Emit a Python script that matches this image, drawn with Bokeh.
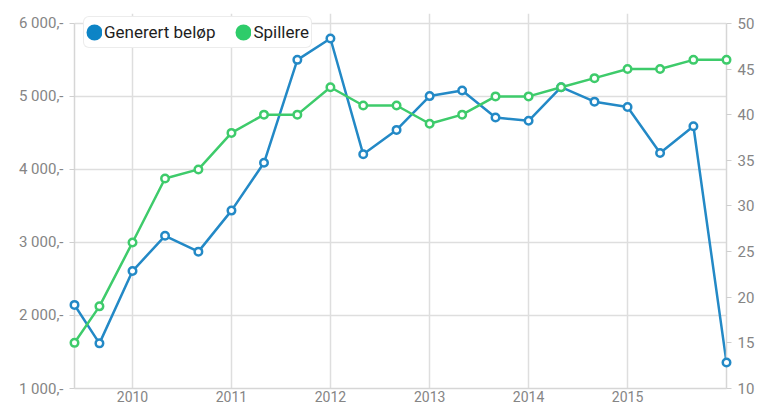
import pandas as pd
from bokeh.plotting import figure
from bokeh.models import (Range1d, LinearAxis, FixedTicker, DatetimeTickFormatter,
                          Legend, LegendItem, ColumnDataSource)
from bokeh.embed import file_html
from bokeh.resources import INLINE

# ---- data ----
dates = ["2009-06-01", "2009-09-01", "2010-01-01", "2010-05-01", "2010-09-01",
         "2011-01-01", "2011-05-01", "2011-09-01", "2012-01-01", "2012-05-01",
         "2012-09-01", "2013-01-01", "2013-05-01", "2013-09-01", "2014-01-01",
         "2014-05-01", "2014-09-01", "2015-01-01", "2015-05-01", "2015-09-01",
         "2016-01-01"]
generert_belop = [2145, 1618, 2608, 3091, 2874, 3436, 4091, 5500, 5793, 4207,
                  4541, 5004, 5081, 4712, 4666, 5126, 4928, 4855, 4226, 4591, 1355]
spillere = [15, 19, 26, 33, 34, 38, 40, 40, 43, 41, 41, 39, 40, 42, 42, 43, 44,
            45, 45, 46, 46]
year_ticks = ["2010-01-01", "2011-01-01", "2012-01-01", "2013-01-01",
              "2014-01-01", "2015-01-01"]
left_ticks = [1000, 2000, 3000, 4000, 5000, 6000]
left_labels = ["1 000,-", "2 000,-", "3 000,-", "4 000,-", "5 000,-", "6 000,-"]
right_ticks = [10, 15, 20, 25, 30, 35, 40, 45, 50]
series_names = ["Generert beløp", "Spillere"]

BLUE = "#2389c6"
BLUE_DOT = "#0d84c6"
GREEN = "#3ecb6b"
GREEN_DOT = "#2ecc6a"
GRID = "#dedede"
TXT = "#858585"
FONT = "Roboto"

# headroom above the top tick so the legend can sit above the 6000 line
TOP_PAD = 135
scale = (right_ticks[-1] - right_ticks[0]) / (left_ticks[-1] - left_ticks[0])

x = pd.to_datetime(dates)
src = ColumnDataSource(dict(x=x, b=generert_belop, s=spillere))

p = figure(width=757, height=404, x_axis_type="datetime",
           output_backend="svg", toolbar_location=None,
           x_range=Range1d(pd.Timestamp(dates[0]), pd.Timestamp(dates[-1])),
           y_range=Range1d(left_ticks[0], left_ticks[-1] + TOP_PAD),
           min_border_left=74, min_border_right=30, min_border_top=13,
           min_border_bottom=0)
p.extra_y_ranges = {"right": Range1d(right_ticks[0],
                                     right_ticks[-1] + TOP_PAD * scale)}
p.outline_line_color = None
p.background_fill_color = "white"

# axes
xt = [pd.Timestamp(d).value // 10**6 for d in year_ticks]
p.xaxis.ticker = FixedTicker(ticks=xt)
p.xaxis.formatter = DatetimeTickFormatter(years="%Y", months="%Y", days="%Y")
p.yaxis.ticker = FixedTicker(ticks=left_ticks)
p.yaxis.major_label_overrides = dict(zip(left_ticks, left_labels))
p.yaxis.bounds = (left_ticks[0], left_ticks[-1])

rax = LinearAxis(y_range_name="right", ticker=FixedTicker(ticks=right_ticks),
                 bounds=(right_ticks[0], right_ticks[-1]))
p.add_layout(rax, "right")

for ax in [p.xaxis[0], p.yaxis[0], rax]:
    ax.axis_line_color = "#d6d6d6"
    ax.axis_line_width = 1.5
    ax.major_tick_line_color = "#cfcfcf"
    ax.major_tick_line_width = 1
    ax.major_tick_out = 5
    ax.major_tick_in = 0
    ax.minor_tick_line_color = None
    ax.major_label_text_color = TXT
    ax.major_label_text_font = FONT
    ax.major_label_text_font_size = "15px"
    ax.major_label_standoff = 6
p.xaxis.major_tick_line_color = None
p.xaxis.major_tick_out = 0
p.xaxis.major_label_standoff = 2
p.xaxis.major_label_text_font_size = "14px"

p.xgrid.grid_line_color = GRID
p.xgrid.grid_line_width = 1.5
p.ygrid.grid_line_color = GRID
p.ygrid.grid_line_width = 1.5

# series
p.line("x", "b", source=src, line_color=BLUE, line_width=2.5)
p.line("x", "s", source=src, line_color=GREEN, line_width=2.5, y_range_name="right")
p.scatter("x", "b", source=src, size=7.5, fill_color="white", line_color=BLUE,
          line_width=2.5, level="overlay")
p.scatter("x", "s", source=src, size=7.5, fill_color="white", line_color=GREEN,
          line_width=2.5, y_range_name="right", level="overlay")

# legend (filled dots); proxy points lie outside the visible range
hidden_y = [left_ticks[0] - 5000]
lb = p.scatter(x=[x[0]], y=hidden_y, size=6.4, fill_color=BLUE_DOT,
               line_color=BLUE_DOT, line_width=9.6)
lg = p.scatter(x=[x[0]], y=hidden_y, size=6.4, fill_color=GREEN_DOT,
               line_color=GREEN_DOT, line_width=9.6)
legend = Legend(items=[LegendItem(label=series_names[0], renderers=[lb]),
                       LegendItem(label=series_names[1], renderers=[lg])],
                orientation="horizontal", location=(9, 340),
                glyph_width=16, glyph_height=26, label_standoff=2, spacing=20,
                padding=2, margin=0,
                border_line_color="#d9d9d9", border_line_width=1.5,
                background_fill_color="white", background_fill_alpha=1)
legend.label_text_font = FONT
legend.label_text_font_size = "17px"
legend.label_text_color = "#1e1e1e"
if "border_radius" in Legend.properties():
    legend.border_radius = 6
p.add_layout(legend)

open("out.html", "w").write(file_html(p, INLINE))
